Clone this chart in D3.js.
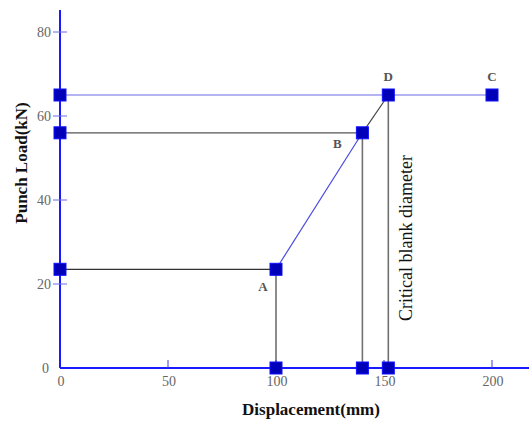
<!DOCTYPE html>
<html>
<head>
<meta charset="utf-8">
<script src="https://cdn.jsdelivr.net/npm/d3@7/dist/d3.min.js"></script>
<style>
  html, body { margin: 0; padding: 0; background: #fff; }
  svg { display: block; }
</style>
</head>
<body>
<svg id="chart" width="529" height="423"></svg>
<script>
// Punch load vs displacement: key points of the forming path
const pointNames = ["A", "B", "D", "C"];
const pointX = [100, 140, 152, 200];
const pointY = [23.5, 56, 65, 65];

const xTicks = [0, 50, 100, 150, 200];
const yTicks = [0, 20, 40, 60, 80];

const svg = d3.select("#chart");
const x = d3.scaleLinear().domain([0, 200]).range([60, 492]);
const y = d3.scaleLinear().domain([0, 80]).range([368, 32]);

const serif = "'Liberation Serif', 'DejaVu Serif', serif";
const axisBlue = "#1a1aff";
const guideGray = "#707070";

// Reference guides from both axes to the key points
const pts = pointNames.map((n, i) => ({ name: n, x: pointX[i], y: pointY[i] }));
const A = pts[0], B = pts[1], D = pts[2], C = pts[3];

// horizontal guides from the load axis
svg.append("line")
  .attr("x1", x(0)).attr("x2", x(A.x)).attr("y1", y(A.y)).attr("y2", y(A.y))
  .attr("stroke", "#333").attr("stroke-width", 1.2);
svg.append("line")
  .attr("x1", x(0)).attr("x2", x(B.x)).attr("y1", y(B.y)).attr("y2", y(B.y))
  .attr("stroke", "#555").attr("stroke-width", 1.2);
svg.append("line")
  .attr("x1", x(0)).attr("x2", x(C.x)).attr("y1", y(C.y)).attr("y2", y(C.y))
  .attr("stroke", "#6a6ae8").attr("stroke-width", 1.2);

// vertical guides down to the displacement axis
[A, B, D].forEach(p => {
  svg.append("line")
    .attr("x1", x(p.x)).attr("x2", x(p.x)).attr("y1", y(p.y)).attr("y2", y(0))
    .attr("stroke", guideGray).attr("stroke-width", 1.6);
});

// load path A -> B -> D
svg.append("line")
  .attr("x1", x(A.x)).attr("y1", y(A.y)).attr("x2", x(B.x)).attr("y2", y(B.y))
  .attr("stroke", "#4a4ae0").attr("stroke-width", 1.2);
svg.append("line")
  .attr("x1", x(B.x)).attr("y1", y(B.y)).attr("x2", x(D.x)).attr("y2", y(D.y))
  .attr("stroke", "#444").attr("stroke-width", 1.2);

// Axes
svg.append("line")
  .attr("x1", x(0)).attr("x2", 529).attr("y1", y(0)).attr("y2", y(0))
  .attr("stroke", axisBlue).attr("stroke-width", 2);
svg.append("line")
  .attr("x1", x(0)).attr("x2", x(0)).attr("y1", 10).attr("y2", y(0))
  .attr("stroke", axisBlue).attr("stroke-width", 2);

// y ticks cross the axis
yTicks.filter(t => t > 0).forEach(t => {
  svg.append("line")
    .attr("x1", x(0) - 7).attr("x2", x(0) + 7).attr("y1", y(t)).attr("y2", y(t))
    .attr("stroke", "#6a6af0").attr("stroke-width", 1);
});
yTicks.forEach(t => {
  svg.append("text")
    .attr("x", t === 0 ? 49 : 51).attr("y", y(t) + 5)
    .attr("text-anchor", "end")
    .attr("font-family", serif).attr("font-size", 14)
    .attr("fill", "#666").text(t);
});

// x ticks sit above the axis
xTicks.filter(t => t > 0).forEach(t => {
  svg.append("line")
    .attr("x1", x(t)).attr("x2", x(t)).attr("y1", y(0) - 8).attr("y2", y(0))
    .attr("stroke", "#3a3af0").attr("stroke-width", 1);
});
xTicks.forEach(t => {
  svg.append("text")
    .attr("x", x(t) + 1).attr("y", 386)
    .attr("text-anchor", "middle")
    .attr("font-family", serif).attr("font-size", 14)
    .attr("fill", "#666").text(t);
});

// Markers: key points plus their projections onto both axes
const markers = [];
pts.forEach(p => markers.push([p.x, p.y]));
[A, B, D].forEach(p => { markers.push([0, p.y]); markers.push([p.x, 0]); });
const s = 12;
svg.selectAll("rect.mk").data(markers).join("rect")
  .attr("class", "mk")
  .attr("x", d => x(d[0]) - s / 2).attr("y", d => y(d[1]) - s / 2)
  .attr("width", s).attr("height", s)
  .attr("fill", "#0000b8").attr("stroke", "#1010ff").attr("stroke-width", 1);

// Point labels
const labelPos = { A: [-13, 22], B: [-25, 15], D: [0, -14], C: [0, -14] };
pts.forEach(p => {
  svg.append("text")
    .attr("x", x(p.x) + labelPos[p.name][0]).attr("y", y(p.y) + labelPos[p.name][1])
    .attr("text-anchor", "middle")
    .attr("font-family", serif).attr("font-size", 13).attr("font-weight", "bold")
    .attr("fill", "#555").text(p.name);
});

// Annotation along the critical diameter line
svg.append("text")
  .attr("transform", `translate(${x(D.x) + 24},${238}) rotate(-90)`)
  .attr("text-anchor", "middle")
  .attr("font-family", serif).attr("font-size", 18)
  .attr("fill", "#111").text("Critical blank diameter");

// Axis titles
svg.append("text")
  .attr("x", 311).attr("y", 415)
  .attr("text-anchor", "middle")
  .attr("font-family", serif).attr("font-size", 17).attr("font-weight", "bold")
  .attr("fill", "#111").text("Displacement(mm)");
svg.append("text")
  .attr("transform", "translate(27,163) rotate(-90)")
  .attr("text-anchor", "middle")
  .attr("font-family", serif).attr("font-size", 17).attr("font-weight", "bold")
  .attr("fill", "#111").text("Punch Load(kN)");
</script>
</body>
</html>
